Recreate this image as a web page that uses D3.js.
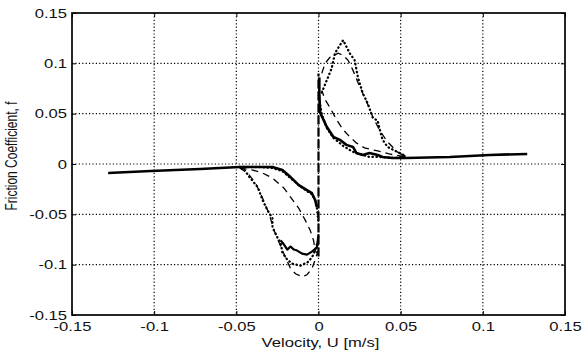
<!DOCTYPE html>
<html>
<head>
<meta charset="utf-8">
<script src="https://cdn.jsdelivr.net/npm/d3@7/dist/d3.min.js"></script>
<style>
  body { margin: 0; background: #fff; }
  svg { display: block; font-family: "Liberation Sans", Arial, sans-serif; }
</style>
</head>
<body>
<svg id="chart"></svg>
<script>
// velocity U [m/s] and friction coefficient f
// null in an f array = pen up (gap in the trace)
const ticks = [-0.15, -0.1, -0.05, 0, 0.05, 0.1, 0.15];
const tickLabels = ['-0.15', '-0.1', '-0.05', '0', '0.05', '0.1', '0.15'];

// solid: flat run from the left, upper negative branch | lower positive branch, flat run to the right
const solidU = [-0.128, -0.102, -0.072, -0.048, -0.028, -0.022, -0.017, -0.012, -0.007, -0.004, -0.002, -0.001, 0,
  0.0005, 0.0005, 0.001, 0.005, 0.009, 0.013, 0.017, 0.021, 0.023, 0.027, 0.031, 0.036, 0.039, 0.045, 0.053, 0.080, 0.104, 0.127];
const solidF = [-0.009, -0.007, -0.005, -0.003, -0.003, -0.006, -0.013, -0.021, -0.026, -0.029, -0.036, -0.043, null,
  0.086, 0.07, 0.051, 0.037, 0.027, 0.024, 0.019, 0.017, 0.011, 0.009, 0.011, 0.009, 0.007, 0.006, 0.006, 0.007, 0.009, 0.010];
// solid: noisy lower negative branch
const solid2U = [0, -0.001, -0.004, -0.007, -0.010, -0.013, -0.015, -0.017, -0.019, -0.021, -0.023];
const solid2F = [-0.07, -0.083, -0.087, -0.090, -0.089, -0.086, -0.085, -0.082, -0.085, -0.080, -0.076];

// stick-slip jump at U = 0
const jumpU = [0, 0];
const jumpF = [-0.092, 0.09];

const dashU = [-0.048, -0.040, -0.034, -0.028, -0.021, -0.017, -0.012, -0.008, -0.005, -0.003, -0.002, 0, 0,
  0.002, 0.004, 0.007, 0.012, 0.015, 0.018, 0.021, 0.024, 0.027, 0.030, 0.033, 0.037, 0.042, 0.048, 0.053,
  0.043, 0.036, 0.028, 0.023, 0.019, 0.015, 0.011, 0.007, 0.004, 0.002, 0, 0,
  -0.002, -0.004, -0.007, -0.010, -0.014, -0.017, -0.020, -0.024, -0.027, -0.030, -0.034, -0.038, -0.043, -0.048];
const dashF = [-0.004, -0.006, -0.009, -0.014, -0.024, -0.033, -0.044, -0.056, -0.066, -0.076, -0.086, -0.09, null,
  0.090, 0.100, 0.106, 0.110, 0.108, 0.103, 0.093, 0.081, 0.070, 0.059, 0.047, 0.034, 0.022, 0.012, 0.007,
  0.010, 0.013, 0.016, 0.021, 0.027, 0.034, 0.044, 0.056, 0.064, 0.073, null, -0.085,
  -0.095, -0.104, -0.110, -0.112, -0.109, -0.104, -0.093, -0.078, -0.066, -0.050, -0.034, -0.020, -0.009, -0.004];

const dotU = [-0.048, -0.035, -0.028, -0.022, -0.017, -0.012, -0.007, -0.004, -0.002, -0.001, 0, 0.001,
  0.002, 0.005, 0.008, 0.010, 0.013, 0.015, 0.019, 0.022, 0.024, 0.027, 0.030, 0.033, 0.036, 0.037, 0.039, 0.042, 0.048, 0.053,
  0.047, 0.037, 0.031, 0.021, 0.015, 0.009, 0.005, 0.002, 0.001, 0,
  -0.001, -0.003, -0.006, -0.011, -0.016, -0.019, -0.022, -0.023, -0.025, -0.028, -0.028, -0.031, -0.034, -0.037, -0.042, -0.045, -0.048];
const dotF = [-0.003, -0.003, -0.004, -0.007, -0.014, -0.021, -0.027, -0.030, -0.036, -0.043, -0.058, null,
  0.071, 0.083, 0.095, 0.110, 0.118, 0.123, 0.110, 0.103, 0.086, 0.070, 0.060, 0.046, 0.043, 0.036, 0.024, 0.017, 0.012, 0.008,
  0.006, 0.007, 0.007, 0.012, 0.018, 0.026, 0.036, 0.049, 0.059, null,
  -0.080, -0.090, -0.097, -0.101, -0.099, -0.095, -0.088, -0.078, -0.073, -0.063, -0.054, -0.046, -0.036, -0.023, -0.013, -0.006, -0.003];

const W = 582, H = 358;
const margin = { top: 13, right: 17, bottom: 43, left: 72 };
const width = W - margin.left - margin.right;
const height = H - margin.top - margin.bottom;
const sx = 1.33; // the scanned lettering is wider than it is tall

const svg = d3.select('#chart').attr('width', W).attr('height', H);
const g = svg.append('g').attr('transform', `translate(${margin.left},${margin.top})`);

const x = d3.scaleLinear().domain([-0.15, 0.15]).range([0, width]);
const y = d3.scaleLinear().domain([-0.15, 0.15]).range([height, 0]);

// dotted grid
const inner = ticks.slice(1, -1);
g.selectAll('.gx').data(inner).enter().append('line')
  .attr('x1', d => x(d)).attr('x2', d => x(d)).attr('y1', 0).attr('y2', height)
  .attr('stroke', '#000').attr('stroke-width', 1.2).attr('stroke-dasharray', '1.2,2.2');
g.selectAll('.gy').data(inner).enter().append('line')
  .attr('y1', d => y(d)).attr('y2', d => y(d)).attr('x1', 0).attr('x2', width)
  .attr('stroke', '#000').attr('stroke-width', 1.2).attr('stroke-dasharray', '1.2,2.2');

// axes, matlab style: ticks inward, box around
const fmt = (d, i) => tickLabels[i];
const xAxis = g.append('g').attr('transform', `translate(0,${height})`)
  .call(d3.axisBottom(x).tickValues(ticks).tickFormat(fmt).tickSizeInner(-4).tickSizeOuter(0).tickPadding(7));
const yAxis = g.append('g')
  .call(d3.axisLeft(y).tickValues(ticks).tickFormat(fmt).tickSizeInner(-4).tickSizeOuter(0).tickPadding(5));
g.append('g').call(d3.axisTop(x).tickValues(ticks).tickFormat('').tickSizeInner(-4).tickSizeOuter(0));
g.append('g').attr('transform', `translate(${width},0)`)
  .call(d3.axisRight(y).tickValues(ticks).tickFormat('').tickSizeInner(-4).tickSizeOuter(0));
g.selectAll('.domain').remove();
g.selectAll('.tick line').attr('stroke', '#000');
[xAxis, yAxis].forEach(a => a.selectAll('text')
  .attr('font-size', 12.5).attr('fill', '#111').attr('font-family', '"Liberation Sans", Arial, sans-serif')
  .attr('transform', `scale(${sx},1)`));
yAxis.selectAll('text').attr('x', -5 / sx);

g.append('rect').attr('width', width).attr('height', height)
  .attr('fill', 'none').attr('stroke', '#000').attr('stroke-width', 1.7);

// curves
const line = d3.line().defined(d => d[1] != null).x(d => x(d[0])).y(d => y(d[1]));
const zip = (u, f) => u.map((v, i) => [v, f[i]]);

g.append('path').datum(zip(jumpU, jumpF)).attr('d', line)
  .attr('fill', 'none').attr('stroke', '#000').attr('stroke-width', 2.2)
  .attr('stroke-dasharray', '9,3');
g.append('path').datum(zip(dashU, dashF)).attr('d', line)
  .attr('fill', 'none').attr('stroke', '#000').attr('stroke-width', 1.3)
  .attr('stroke-dasharray', '7,5');
g.append('path').datum(zip(dotU, dotF)).attr('d', line)
  .attr('fill', 'none').attr('stroke', '#000').attr('stroke-width', 2.3)
  .attr('stroke-linecap', 'round').attr('stroke-dasharray', '0.4,3.6');
g.append('path').datum(zip(solidU, solidF)).attr('d', line)
  .attr('fill', 'none').attr('stroke', '#000').attr('stroke-width', 2.6).attr('stroke-linejoin', 'round');
g.append('path').datum(zip(solid2U, solid2F)).attr('d', line)
  .attr('fill', 'none').attr('stroke', '#000').attr('stroke-width', 2.2).attr('stroke-linejoin', 'round');

// axis titles
svg.append('text')
  .attr('transform', `translate(${margin.left + width / 2 + 2},347) scale(${sx},1)`)
  .attr('text-anchor', 'middle').attr('font-size', 12.5).attr('fill', '#111')
  .text('Velocity, U [m/s]');
svg.append('text')
  .attr('transform', `translate(17,156) scale(${sx},1) rotate(-90)`)
  .attr('text-anchor', 'middle').attr('font-size', 12).attr('fill', '#111')
  .text('Friction Coefficient, f');
</script>
</body>
</html>
